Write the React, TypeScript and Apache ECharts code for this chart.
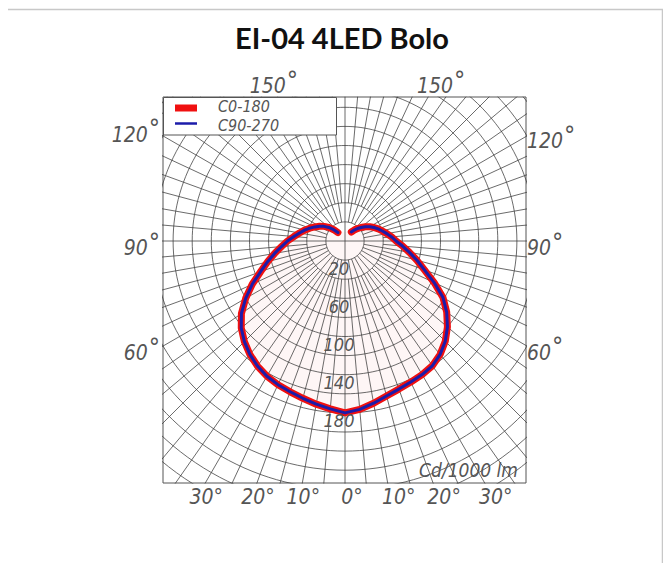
import React, { useEffect, useRef } from "react";
import * as echarts from "echarts";

// ---------- data ----------
const TITLE = "EI-04 4LED Bolo";
const SERIES_NAMES = ["C0-180", "C90-270"];
const UNIT_LABEL = "Cd/1000 lm";
// gamma angles (deg from nadir)
const GAMMA = [0, 5, 10, 15, 20, 25, 30, 35, 40, 45, 50, 55, 60, 65, 70, 75, 80, 85, 90, 95, 100, 105, 110, 115, 120, 125, 130, 135, 140, 145];
// intensities cd/klm, right half-plane (C0 / C90)
const C0 = [180, 177, 172.5, 168, 165, 163, 161.5, 159.5, 155, 148.5, 140, 130, 118.5, 103, 88.5, 78, 68.5, 60.5, 53.5, 49, 44.5, 40.5, 37, 33.5, 30, 26, 22, 18.5, 15, 11.5];
const C90 = [180, 177, 172.5, 168, 165, 163, 161.5, 159.5, 155, 148.5, 140, 130, 118.5, 103, 88.5, 78, 68.5, 60.5, 53.5, 49, 44.5, 40.5, 37, 33.5, 30, 26, 22, 18.5, 15, 11.5];
// left half-plane (C180 / C270), up to 140 deg
const C180 = [180, 176.5, 173.5, 170.5, 168, 166, 163.5, 159.8, 155, 149, 141.8, 132.4, 120.1, 107.2, 94.1, 83.9, 74.9, 66.7, 60.2, 53.7, 48.4, 43.8, 39.3, 34.9, 30.8, 26.7, 22.1, 16.7, 11.5];
const C270 = [180, 176.5, 173.5, 170.5, 168, 166, 163.5, 159.8, 155, 149, 141.8, 132.4, 120.1, 107.2, 94.1, 83.9, 74.9, 66.7, 60.2, 53.7, 48.4, 43.8, 39.3, 34.9, 30.8, 26.7, 22.1, 16.7, 11.5];
// grid
const RINGS = [20, 40, 60, 80, 100, 120, 140, 160, 180, 200, 220, 240, 260, 280, 300, 320];
const RING_LABELS = [20, 60, 100, 140, 180];
const SIDE_ANGLES = [60, 90, 120];
const TOP_ANGLE = 150;
const BOTTOM_ANGLES = [-30, -20, -10, 0, 10, 20, 30];

// ---------- layout ----------
const CX = 345;
const CY = 241;
const S = 0.955; // px per cd
const BOX = { l: 163, t: 97, r: 526, b: 483 };
const LABEL_FONT = "'Liberation Sans Narrow', 'DejaVu Sans Condensed', 'Arial Narrow', 'Liberation Sans', sans-serif";
const LABEL_COLOR = "#555555";
const GRID_COLOR = "#3a3a3a";

const rad = (d: number) => (d * Math.PI) / 180;
const pt = (gamma: number, r: number, side: number) => [side * r * Math.sin(rad(gamma)), -r * Math.cos(rad(gamma))];

function buildOption() {
  const xMin = -(CX - BOX.l) / S;
  const xMax = (BOX.r - CX) / S;
  const yMax = (CY - BOX.t) / S;
  const yMin = -(BOX.b - CY) / S;

  const gridLine = { color: GRID_COLOR, width: 0.75 };
  const series: any[] = [];

  RINGS.forEach((r) => {
    const data: number[][] = [];
    for (let a = 0; a <= 360; a += 2) data.push([r * Math.sin(rad(a)), -r * Math.cos(rad(a))]);
    series.push({ type: "line", data, symbol: "none", silent: true, lineStyle: gridLine, z: 1, clip: true });
  });
  for (let a = 0; a < 360; a += 5) {
    const start = a % 90 === 0 ? 0 : a % 10 === 0 ? 20 : 40;
    series.push({
      type: "line",
      data: [
        [start * Math.sin(rad(a)), -start * Math.cos(rad(a))],
        [420 * Math.sin(rad(a)), -420 * Math.cos(rad(a))],
      ],
      symbol: "none",
      silent: true,
      lineStyle: gridLine,
      z: 1,
      clip: true,
    });
  }

  const curve = (right: number[], left: number[]) => {
    const out: number[][] = [];
    for (let i = left.length - 1; i >= 0; i--) out.push(pt(GAMMA[i], left[i], -1));
    for (let i = 1; i < right.length; i++) out.push(pt(GAMMA[i], right[i], 1));
    return out;
  };
  const redData = curve(C0, C180);

  // faint pink tint inside the C0-180 curve (stands in for the red speckles)
  series.push({
    type: "custom",
    silent: true,
    z: 0,
    data: [0],
    renderItem: (_p: any, api: any) => ({
      type: "polygon",
      shape: { points: redData.map((p) => api.coord(p)) },
      style: { fill: "rgba(225,40,40,0.045)" },
    }),
  });

  series.push({
    name: SERIES_NAMES[0],
    type: "line",
    data: redData,
    symbol: "none",
    lineStyle: { color: "#f01010", width: 7, cap: "round", join: "round" },
    z: 5,
  });
  series.push({
    name: SERIES_NAMES[1],
    type: "line",
    data: curve(C90, C270),
    symbol: "none",
    lineStyle: { color: "#1c1caa", width: 3, cap: "round", join: "round" },
    z: 6,
  });

  const txt = (x: number, y: number, text: string, size: number, align: string, extra: any = {}) => ({
    type: "text",
    x,
    y,
    z: 50,
    silent: true,
    style: {
      text,
      fontSize: size,
      fontFamily: LABEL_FONT,
      fontStyle: "italic",
      fill: LABEL_COLOR,
      align,
      verticalAlign: "middle",
      ...extra,
    },
  });
  const degRich = (size: number) => ({
    n: { fontSize: size, fontFamily: LABEL_FONT, fontStyle: "italic", fill: LABEL_COLOR, verticalAlign: "bottom" },
    d: { fontSize: size + 4, fontFamily: LABEL_FONT, fill: LABEL_COLOR, padding: [0, 0, 4, 1], verticalAlign: "bottom" },
  });

  const graphic: any[] = [];
  // outer frame
  graphic.push({
    type: "rect",
    z: 0,
    silent: true,
    shape: { x: 6.5, y: 9.5, width: 656, height: 620 },
    style: { fill: "none", stroke: "#c8c8c8", lineWidth: 1.5 },
  });

  // ring labels
  RING_LABELS.forEach((r) => graphic.push(txt(CX - 6, CY + r * S + 8, String(r), 18, "center")));

  // side labels
  SIDE_ANGLES.forEach((a) => {
    const cot = Math.cos(rad(a)) / Math.sin(rad(a));
    const yl = CY + (CX - BOX.l) * cot;
    const yr = CY + (BOX.r - CX) * cot;
    const offL = a === 120 ? -5 : 3;
    const offR = a === 120 ? 1 : 3;
    graphic.push(txt(BOX.l - 3, yl + offL, `{n|${a}}{d|°}`, 21, "right", { rich: degRich(21) }));
    graphic.push(txt(BOX.r + 1, yr + offR, `{n|${a}}{d|°}`, 21, "left", { rich: degRich(21) }));
  });
  // top labels
  {
    const dx = (CY - BOX.t) * Math.tan(rad(180 - TOP_ANGLE));
    graphic.push(txt(CX - dx + 12, 82, `{n|${TOP_ANGLE}}{d|°}`, 21, "center", { rich: degRich(21) }));
    graphic.push(txt(CX + dx + 13, 82, `{n|${TOP_ANGLE}}{d|°}`, 21, "center", { rich: degRich(21) }));
  }
  // bottom labels
  BOTTOM_ANGLES.forEach((a) => {
    const hx = CX + (BOX.b - CY) * Math.tan(rad(a));
    const off = a < 0 ? 1 : a === 0 ? 7 : 11;
    graphic.push(txt(hx + off, 497, `${Math.abs(a)}°`, 21, "center"));
  });
  // unit
  graphic.push(txt(BOX.r - 8, 470, UNIT_LABEL, 19, "right"));

  // legend
  graphic.push({
    type: "rect",
    z: 60,
    silent: true,
    shape: { x: BOX.l + 0.5, y: BOX.t + 0.5, width: 173, height: 37.5 },
    style: { fill: "#fff", stroke: "#555", lineWidth: 1 },
  });
  graphic.push({ type: "rect", z: 61, silent: true, shape: { x: 175, y: 104.5, width: 22, height: 7 }, style: { fill: "#f01010" } });
  graphic.push({ type: "line", z: 61, silent: true, shape: { x1: 175, y1: 123.5, x2: 197, y2: 123.5 }, style: { stroke: "#1c1caa", lineWidth: 2.5 } });
  graphic.push({ ...txt(218, 106, SERIES_NAMES[0], 16, "left"), z: 62 });
  graphic.push({ ...txt(218, 125, SERIES_NAMES[1], 16, "left"), z: 62 });

  return {
    animation: false,
    backgroundColor: "#ffffff",
    title: {
      text: TITLE,
      left: 337,
      top: 18,
      textAlign: "center",
      textStyle: { fontFamily: "Lato, 'Open Sans', sans-serif", fontWeight: "bold", fontSize: 29, color: "#111" },
    },
    grid: {
      left: BOX.l,
      top: BOX.t,
      width: BOX.r - BOX.l,
      height: BOX.b - BOX.t,
      show: true,
      borderColor: "#555",
      borderWidth: 1,
      backgroundColor: "transparent",
    },
    xAxis: { type: "value", min: xMin, max: xMax, show: false },
    yAxis: { type: "value", min: yMin, max: yMax, show: false },
    tooltip: { show: false },
    series,
    graphic,
  };
}

export default function App() {
  const ref = useRef<HTMLDivElement>(null);
  useEffect(() => {
    if (!ref.current) return;
    const chart = echarts.init(ref.current, undefined, { renderer: "svg" });
    chart.setOption(buildOption() as any);
    return () => chart.dispose();
  }, []);
  return <div ref={ref} style={{ position: "relative", left: -8, top: -8, width: 671, height: 563 }} />;
}
